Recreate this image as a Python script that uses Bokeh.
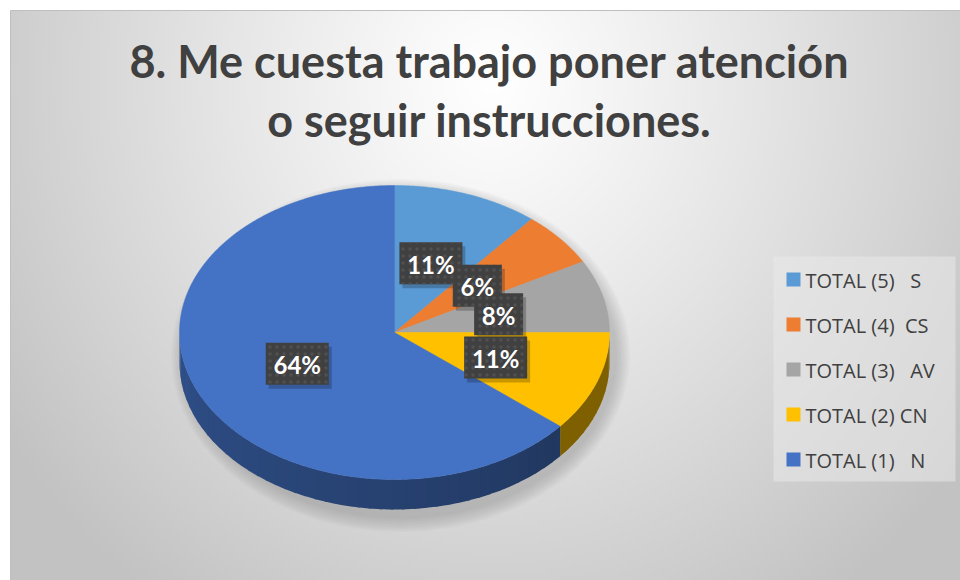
import numpy as np
from bokeh.plotting import figure
from bokeh.models import Range1d
from bokeh.core.properties import value
from bokeh.embed import file_html
from bokeh.resources import INLINE

# ---- data ----
title_lines = ["8. Me cuesta trabajo poner atención", "o seguir instrucciones."]
categories = ["TOTAL (5)   S", "TOTAL (4)  CS", "TOTAL (3)   AV", "TOTAL (2) CN", "TOTAL (1)   N"]
percents = [11, 6, 8, 11, 64]
colors = ["#5B9BD5", "#ED7D31", "#A5A5A5", "#FFC000", "#4472C4"]

# ---- layout (pixel-like data coords, y downward) ----
W, H = 960, 580
CX, CY = 394, 332     # pie centre
RX, RY = 215, 147     # top ellipse radii
DEPTH = 30

p = figure(width=W, height=H, output_backend="svg", toolbar_location=None,
           x_range=Range1d(0, W), y_range=Range1d(H, 0), min_border=0,
           background_fill_color="white", border_fill_color="white")
p.axis.visible = False
p.grid.visible = False
p.outline_line_color = None

# background radial gradient
X0, Y0 = 10, 10
gw, gh = (W - X0) // 4, (H - Y0) // 4
yy, xx = np.mgrid[0:gh, 0:gw]
xs_pix = xx * 4.0 + X0
ys_pix = yy * 4.0 + Y0
d = np.sqrt(((xs_pix - 488) / 510.0) ** 2 + ((ys_pix - 78) / 550.0) ** 2)
val = 255 - 52 * np.clip(d, 0, 1.15) ** 1.1
val = np.clip(val, 0, 255).astype(np.uint32)
img = ((255 << 24) | (val << 16) | (val << 8) | val).astype(np.uint32)
p.image_rgba(image=[img], x=X0, y=Y0, dw=W - X0, dh=H - Y0)
# chart border
p.line(x=[X0, X0, W], y=[H, Y0, Y0], line_color="#BFBFBF", line_width=1)

def pt(t_deg, rx=RX, ry=RY, dy=0.0):
    t = np.radians(t_deg)
    return CX + rx * np.sin(t), CY - ry * np.cos(t) + dy

# soft shadow around pie
for k in range(10):
    g = 2 + k * 3
    p.ellipse(x=CX + 6, y=CY + DEPTH / 2 + 8, width=2 * RX + g, height=2 * RY + DEPTH + g,
              fill_color="#707070", fill_alpha=0.035, line_color=None)

# slice angles (clockwise from top)
pct = np.array(percents, dtype=float)
ends = np.cumsum(pct) / pct.sum() * 360.0
starts = np.concatenate([[0.0], ends[:-1]])

def darken(hexc, f):
    r, g, b = int(hexc[1:3], 16), int(hexc[3:5], 16), int(hexc[5:7], 16)
    return "#%02x%02x%02x" % (int(r * f), int(g * f), int(b * f))

# side walls (visible front half: 90..270 deg)
for s, e, c in zip(starts, ends, colors):
    a0, a1 = max(s, 90.0), min(e, 270.0)
    if a1 <= a0:
        continue
    n = int((a1 - a0) / 3) + 1
    edges = np.linspace(a0, a1, n + 1)
    for i in range(n):
        ts = np.linspace(edges[i], min(edges[i + 1] + 0.6, a1), 4)
        tx, ty = pt(ts)
        bx, by = pt(ts[::-1], dy=DEPTH)
        mid = (edges[i] + edges[i + 1]) / 2
        f = 0.40 + 0.30 * ((mid - 90) / 180.0) ** 0.8
        if c == "#FFC000":
            f = 0.5
        col = darken(c, f)
        p.patch(x=np.concatenate([tx, bx]), y=np.concatenate([ty, by]),
                fill_color=col, line_color=None)

# top faces
for s, e, c in zip(starts, ends, colors):
    ts = np.linspace(s, e, max(int(e - s), 2) * 2)
    ex, ey = pt(ts)
    p.patch(x=np.concatenate([[CX], ex]), y=np.concatenate([[CY], ey]),
            fill_color=c, line_color=c, line_width=0.5)

# data labels
mids = (starts + ends) / 2
lx, ly = pt(mids, rx=RX * 0.5, ry=RY * 0.5)
lab = ["%d%%" % v for v in percents]
bw = [14 * len(t) + 21 for t in lab]
p.rect(x=lx + 3, y=ly + 4, width=bw, height=42, width_units="screen", height_units="screen",
       fill_color="#000000", fill_alpha=0.22, line_color=None)
p.rect(x=lx, y=ly, width=bw, height=42, width_units="screen", height_units="screen",
       fill_color="#404040", line_color=None,
       hatch_pattern="dot", hatch_color="#505050", hatch_scale=7, hatch_weight=1.2)
p.text(x=lx, y=ly + 1, text=lab, text_align="center", text_baseline="middle",
       text_color="white", text_font=value("Lato"), text_font_style="bold",
       text_font_size="24px")

# title
p.text(x=[489, 489], y=[60, 119], text=title_lines, text_align="center",
       text_baseline="middle", text_color="#404040", text_font=value("Lato"),
       text_font_style="bold", text_font_size="45px")

# legend
LX0, LY0, LW, LH = 773, 256, 182, 225
p.quad(left=[LX0], right=[LX0 + LW], top=[LY0], bottom=[LY0 + LH],
       fill_color="#EAEAEA", fill_alpha=0.55, line_color=None)
iy = LY0 + 23 + 45 * np.arange(len(categories))
shown = [c.replace("  ", "\u00a0 ").replace("\u00a0  ", "\u00a0\u00a0 ") for c in categories]
p.rect(x=[LX0 + 20] * len(categories), y=iy, width=14, height=14,
       width_units="screen", height_units="screen", fill_color=colors, line_color=None)
p.text(x=[LX0 + 32] * len(categories), y=iy + 1, text=shown, text_align="left",
       text_baseline="middle", text_color="#404040", text_font=value("Open Sans"),
       text_font_size="20px")

open("out.html", "w").write(file_html(p, INLINE))
